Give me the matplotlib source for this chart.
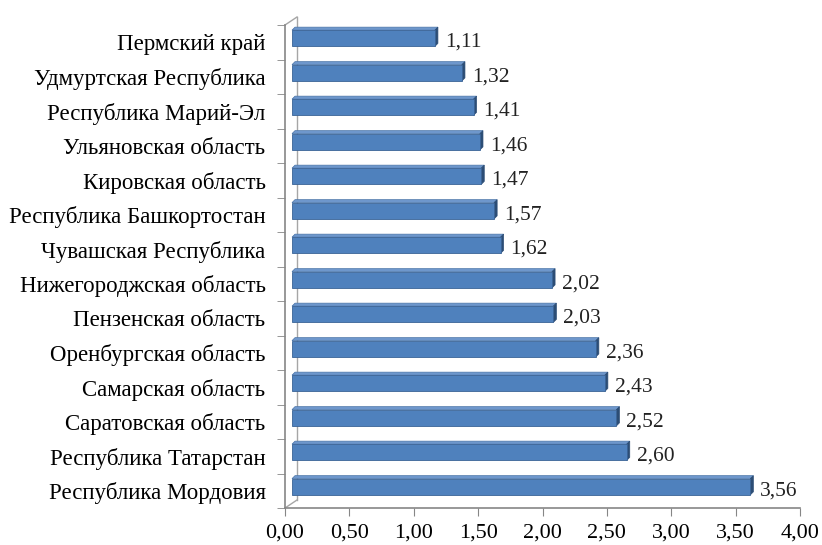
import matplotlib
matplotlib.use("Agg")
import matplotlib.pyplot as plt
import matplotlib.transforms as mtransforms
from matplotlib.patches import Polygon
import numpy as np

regions = ["Пермский край", "Удмуртская Республика", "Республика Марий-Эл",
           "Ульяновская область", "Кировская область", "Республика Башкортостан",
           "Чувашская Республика", "Нижегороджская область", "Пензенская область",
           "Оренбургская область", "Самарская область", "Саратовская область",
           "Республика Татарстан", "Республика Мордовия"]
values = [1.11, 1.32, 1.41, 1.46, 1.47, 1.57, 1.62, 2.02, 2.03, 2.36, 2.43, 2.52, 2.60, 3.56]
xticks = [0, 0.5, 1, 1.5, 2, 2.5, 3, 3.5, 4]

plt.rcParams['font.family'] = ['Liberation Serif', 'DejaVu Serif']

W, H = 822, 545
ax_l, ax_b, ax_w, ax_h = 285, 37, 515, 483
fig = plt.figure(figsize=(W / 100, H / 100), dpi=100)
ax = fig.add_axes([ax_l / W, ax_b / H, ax_w / W, ax_h / H])

n = len(regions)
ypos = np.arange(n)[::-1]
# data units per pixel
ux = 4.0 / ax_w
uy = n / ax_h

# bars sit a little right/up (3d depth)
sx, sy = 7 * ux, 4 * uy
h = 0.47
d = 3  # depth of faces in px

for y, v in zip(ypos, values):
    y0, y1 = y + sy - h / 2, y + sy + h / 2
    x0, x1 = sx, v + sx
    # top face
    ax.add_patch(Polygon([(x0, y1), (x0 + d * ux, y1 + d * uy), (x1 + d * ux, y1 + d * uy), (x1, y1)],
                         closed=True, facecolor="#6E97CC", edgecolor="#4A74A8", lw=0.5, zorder=3))
    # end face
    ax.add_patch(Polygon([(x1, y0), (x1 + d * ux, y0 + d * uy), (x1 + d * ux, y1 + d * uy), (x1, y1)],
                         closed=True, facecolor="#2C4D75", edgecolor="#2C4D75", lw=0.5, zorder=3))
ax.barh(ypos + sy, values, left=sx, height=h, color="#4F81BD", edgecolor="#3A6396",
        linewidth=0.6, zorder=3)

for y, v in zip(ypos, values):
    ax.annotate(f"{v:.2f}".replace(".", ","), xy=(v + sx + d * ux, y), xycoords="data",
                xytext=(7, 0), textcoords="offset pixels", va="center", ha="left",
                fontsize=15.5, color="#222222")

ax.set_xlim(0, 4)
ax.set_ylim(-0.5, n - 0.5)
ax.set_xticks(xticks)
ax.set_xticklabels([f"{t:.2f}".replace(".", ",") for t in xticks], fontsize=16)
ax.set_yticks(ypos)
ax.set_yticklabels(regions, fontsize=16.5)
ax.set_yticks(np.arange(-0.5, n, 1), minor=True)
ax.tick_params(axis="y", which="major", length=0, pad=14)
ax.tick_params(axis="y", which="minor", length=6, color="#868686")
ax.tick_params(axis="x", length=6, color="#868686", pad=5)

for s in ["top", "right"]:
    ax.spines[s].set_visible(False)
for s in ["left", "bottom"]:
    ax.spines[s].set_color("#868686")
    ax.spines[s].set_linewidth(1.2)

# back wall
wx, wy = 12 * ux, 8 * uy
ax.plot([wx, wx], [-0.5 + wy, n - 0.5 + wy], color="#A6A6A6", lw=1.0, clip_on=False, zorder=1)
for yy in [-0.5, n - 0.5]:
    ax.plot([0, wx], [yy, yy + wy], color="#A6A6A6", lw=1.0, clip_on=False, zorder=1)

fig.savefig("out.png", dpi=100)
